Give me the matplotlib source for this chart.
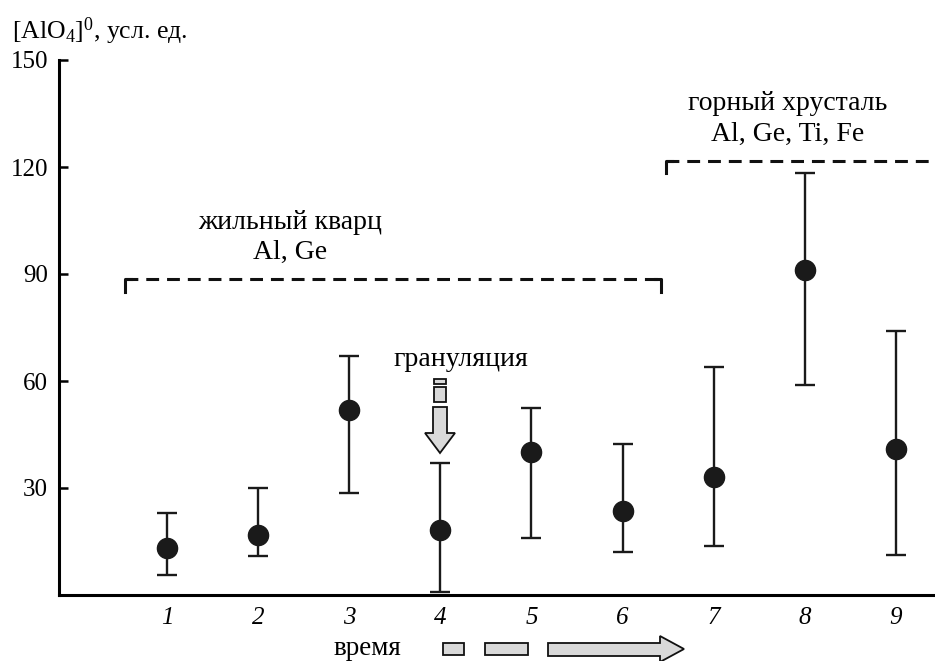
import matplotlib
matplotlib.use("Agg")
import matplotlib.pyplot as plt
from matplotlib.patches import Polygon, Rectangle

plt.rcParams['font.family'] = ['Liberation Serif', 'DejaVu Serif']
plt.rcParams['mathtext.fontset'] = 'custom'
plt.rcParams['mathtext.rm'] = 'Liberation Serif'
plt.rcParams['mathtext.it'] = 'Liberation Serif:italic'

# ---- data ----
samples = [1, 2, 3, 4, 5, 6, 7, 8, 9]
means = [13.3, 16.9, 52.0, 18.3, 40.2, 23.6, 33.2, 91.2, 41.0]
lows = [5.6, 11.0, 28.5, 0.8, 15.9, 12.1, 13.8, 59.0, 11.2]
highs = [23.1, 30.1, 67.1, 36.9, 52.4, 42.2, 64.0, 118.3, 74.0]
yticks = [30, 60, 90, 120, 150]
group1_lines = ["жильный кварц", "Al, Ge"]
group2_lines = ["горный хрусталь", "Al, Ge, Ti, Fe"]
group1_span = (0.54, 6.42, 88.5)
group2_span = (6.48, 9.6, 121.8)

W, H = 935, 661
fig = plt.figure(figsize=(W / 100, H / 100), dpi=100)
ax = fig.add_axes([59 / W, 1 - 595 / H, 1 - 59 / W, (595 - 60) / H])
ax.set_xlim(-0.186, 9.43)
ax.set_ylim(0, 150)

lower_err = [m - l for m, l in zip(means, lows)]
upper_err = [h - m for m, h in zip(means, highs)]
ax.errorbar(samples, means, yerr=[lower_err, upper_err], fmt='o', color='#1a1a1a',
            ms=14.5, elinewidth=1.7, capsize=7.5, capthick=1.7, zorder=3)

for s in ['top', 'right']:
    ax.spines[s].set_visible(False)
for s in ['left', 'bottom']:
    ax.spines[s].set_linewidth(2.2)
    ax.spines[s].set_color('black')

ax.set_yticks(yticks)
ax.set_yticklabels([str(v) for v in yticks])
ax.tick_params(axis='y', direction='in', length=6.5, width=1.8, pad=8, labelsize=18)
ax.set_xticks(samples)
ax.set_xticklabels([str(s) for s in samples], fontstyle='italic')
ax.tick_params(axis='x', length=0, pad=9, labelsize=18)

# group brackets
def bracket(x0, x1, y, drop_left=True, drop_right=True):
    ax.plot([x0, x1], [y, y], color='#111111', lw=2.2, linestyle=(0, (4.2, 2.6)),
            solid_capstyle='butt', zorder=2)
    if drop_left:
        ax.plot([x0, x0, x0 + 0.06], [y - 3.6, y, y], color='#111111', lw=2.2, zorder=2)
    if drop_right:
        ax.plot([x1 - 0.06, x1, x1], [y, y, y - 3.6], color='#111111', lw=2.2, zorder=2)

bracket(*group1_span)
bracket(*group2_span, drop_right=False)

# figure-pixel helper for decorations
def P(x, y):
    return (x / W, 1 - y / H)

fs_ann = 20
fig.text(*P(290, 229), group1_lines[0], ha='center', va='baseline', fontsize=fs_ann)
fig.text(*P(290, 259), group1_lines[1], ha='center', va='baseline', fontsize=fs_ann)
fig.text(*P(788, 110), group2_lines[0], ha='center', va='baseline', fontsize=fs_ann)
fig.text(*P(788, 141), group2_lines[1], ha='center', va='baseline', fontsize=fs_ann)

fig.text(*P(12, 31), "[AlO$_{4}$]$^{0}$, усл. ед.", ha='left', va='center', fontsize=18.5)

fill = '#d9d9d9'
# granulation arrow (down)
fig.text(*P(461, 366), "грануляция", ha='center', va='baseline', fontsize=fs_ann)
for (x0, y0, x1, y1) in [(434, 379, 446, 384), (434, 387, 446, 402)]:
    fig.patches.append(Rectangle(P(x0, y1), (x1 - x0) / W, (y1 - y0) / H,
                                 transform=fig.transFigure, facecolor=fill,
                                 edgecolor='#111111', lw=1.3))
arrow_down = [P(433, 407), P(447, 407), P(447, 433), P(455, 433), P(440, 453),
              P(425, 433), P(433, 433)]
fig.patches.append(Polygon(arrow_down, closed=True, transform=fig.transFigure,
                           facecolor=fill, edgecolor='#111111', lw=1.3))

# time arrow (bottom)
fig.text(*P(367, 655), "время", ha='center', va='baseline', fontsize=19.5)
for (x0, y0, x1, y1) in [(443, 643, 464, 655), (485, 643, 528, 655)]:
    fig.patches.append(Rectangle(P(x0, y1), (x1 - x0) / W, (y1 - y0) / H,
                                 transform=fig.transFigure, facecolor=fill,
                                 edgecolor='#111111', lw=1.3))
arrow_right = [P(548, 643), P(660, 643), P(660, 636), P(684, 649), P(660, 662),
               P(660, 656), P(548, 656)]
fig.patches.append(Polygon(arrow_right, closed=True, transform=fig.transFigure,
                           facecolor=fill, edgecolor='#111111', lw=1.3))

fig.savefig("out.png", dpi=100)
